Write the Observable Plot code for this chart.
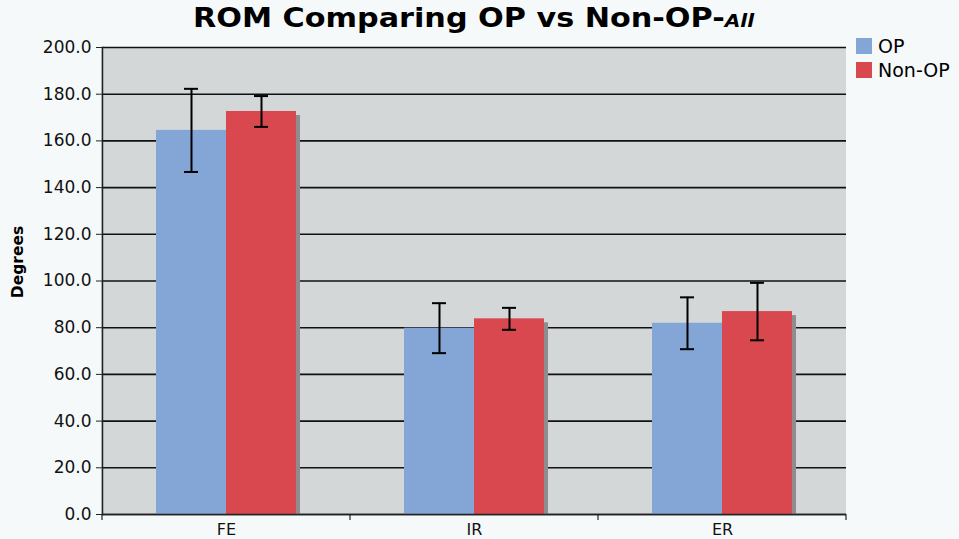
<!DOCTYPE html>
<html>
<head>
<meta charset="utf-8">
<script src="https://cdn.jsdelivr.net/npm/d3@7"></script>
<script src="https://cdn.jsdelivr.net/npm/@observablehq/plot@0.6"></script>
<style>
  html, body { margin: 0; padding: 0; background: #f6f9fa; overflow: hidden; }
  #wrap { position: relative; width: 959px; height: 539px; overflow: hidden; font-family: "DejaVu Sans", Verdana, sans-serif; }
  #title { position: absolute; left: 0; width: 947px; top: 2px; text-align: center; font-weight: bold; font-size: 27px; color: #000; white-space: nowrap; }
  #title span.inner { display: inline-block; transform: scaleX(1.12); transform-origin: center; }
  #title i { font-size: 18px; }
  #ylab { position: absolute; left: 18px; top: 262px; transform: translate(-50%, -50%) rotate(-90deg); font-weight: bold; font-size: 15.5px; white-space: nowrap; }
  #legend { position: absolute; left: 856px; top: 34px; font-size: 19px; white-space: nowrap; }
  #legend .row { display: flex; align-items: center; height: 24px; }
  #legend .sw { width: 16px; height: 16px; margin-right: 6px; }
  #chart { position: absolute; left: 0; top: 0; }
</style>
</head>
<body>
<div id="wrap">
  <div id="chart"></div>
  <div id="title"><span class="inner">ROM Comparing OP vs Non-OP-<i>All</i></span></div>
  <div id="ylab">Degrees</div>
  <div id="legend"></div>
</div>
<script>
const categories = ["FE", "IR", "ER"];
const seriesNames = ["OP", "Non-OP"];
const seriesColors = ["#84a6d6", "#d9484e"];
const opMean = [164.5, 79.8, 81.9];
const opErr = [17.8, 10.7, 11.1];
const nonOpMean = [172.6, 83.8, 86.9];
const nonOpErr = [6.6, 4.7, 12.3];
const yTicks = [0, 20, 40, 60, 80, 100, 120, 140, 160, 180, 200];

const data = [];
categories.forEach((c, i) => {
  data.push({cat: c, series: "OP", mean: opMean[i], lo: opMean[i] - opErr[i], hi: opMean[i] + opErr[i]});
  data.push({cat: c, series: "Non-OP", mean: nonOpMean[i], lo: nonOpMean[i] - nonOpErr[i], hi: nonOpMean[i] + nonOpErr[i]});
});

const plot = Plot.plot({
  width: 959,
  height: 539,
  marginTop: 47,
  marginBottom: 25,
  marginLeft: 101,
  marginRight: 113,
  style: {background: "transparent", fontFamily: "DejaVu Sans, Verdana, sans-serif", color: "#000"},
  fx: {domain: categories, padding: 0, axis: null},
  x: {domain: seriesNames, paddingInner: 0, paddingOuter: 0.75, axis: null},
  y: {domain: [0, 200], axis: null},
  color: {domain: seriesNames, range: seriesColors},
  marks: [
    Plot.ruleY(yTicks, {stroke: "#111", strokeWidth: 1.6}),
    Plot.barY(data, {fx: "cat", x: "series", y: "mean", fill: "#8d8d8d", dx: 4, insetTop: 4}),
    Plot.barY(data, {fx: "cat", x: "series", y: "mean", fill: "series"}),
    Plot.ruleX(data, {fx: "cat", x: "series", y1: "lo", y2: "hi", stroke: "#000", strokeWidth: 2}),
    Plot.tickY(data, {fx: "cat", x: "series", y: "lo", stroke: "#000", strokeWidth: 2, insetLeft: 28, insetRight: 28}),
    Plot.tickY(data, {fx: "cat", x: "series", y: "hi", stroke: "#000", strokeWidth: 2, insetLeft: 28, insetRight: 28}),
    Plot.frame({anchor: "left", facetAnchor: "left", stroke: "#222", strokeWidth: 1.5}),
    Plot.ruleY([0], {stroke: "#222", strokeWidth: 1.5}),
    Plot.axisY(yTicks, {tickFormat: d => d.toFixed(1), tickSize: 6, tickPadding: 5, fontSize: 17, label: null, stroke: "#222", fill: "#111"}),
    Plot.axisFx({anchor: "bottom", tickSize: 0, tickPadding: 9, fontSize: 16, label: null, fill: "#111"})
  ]
});
document.getElementById("chart").appendChild(plot);

// single plot-area background and boundary ticks, from the library's own scales
const fx = plot.scale("fx");
const ys = plot.scale("y");
const y0 = ys.apply(0);
const yTop = ys.apply(200);
const xl = fx.range[0], xr = fx.range[1];
const svg = d3.select(plot);
svg.insert("rect", "g")
  .attr("x", xl).attr("y", yTop)
  .attr("width", xr - xl).attr("height", y0 - yTop)
  .attr("fill", "#d3d7d8");
const bounds = categories.map(c => fx.apply(c));
bounds.push(fx.apply(categories[categories.length - 1]) + fx.bandwidth);
svg.append("g").selectAll("line").data(bounds).join("line")
  .attr("x1", d => d).attr("x2", d => d)
  .attr("y1", y0).attr("y2", y0 + 6)
  .attr("stroke", "#222").attr("stroke-width", 1.2);

// legend
const lg = d3.select("#legend");
seriesNames.forEach((s, i) => {
  const row = lg.append("div").attr("class", "row");
  row.append("div").attr("class", "sw").style("background", seriesColors[i]);
  row.append("span").text(s);
});
</script>
</body>
</html>
